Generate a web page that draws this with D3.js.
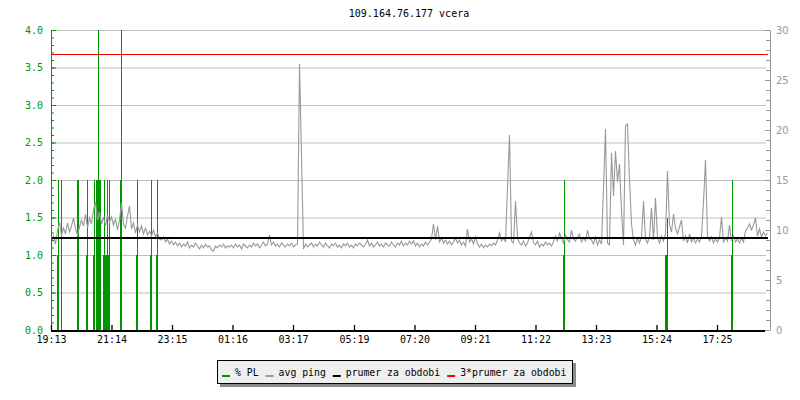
<!DOCTYPE html>
<html>
<head>
<meta charset="utf-8">
<script src="https://d3js.org/d3.v7.min.js"></script>
<style>
  body { margin: 0; background: #fff; }
  svg { display: block; font-family: "DejaVu Sans Mono", monospace; }
</style>
</head>
<body>
<svg id="chart" width="800" height="400"></svg>
<script>
var width = 800;
var height = 400;
var green = '#009600';
var gray = '#999999';

var title = "109.164.76.177 vcera";

// bottom axis tick labels (time of day)
var tickLabels = ["19:13", "21:14", "23:15", "01:16", "03:17", "05:19", "07:20", "09:21", "11:22", "13:23", "15:24", "17:25"];

// avg ping [ms], one sample every 4 minutes starting 19:13
var pingValues = [
  // 19:13 - 22:49
  8.8, 9.4, 8.6, 9.9, 10.8, 9.4, 10.2, 9.6, 10.7, 9.8, 10.4, 11.2, 10.1, 9.5, 10.3, 11.0, 10.4, 11.6, 10.2, 11.2,
  10.6, 12.0, 12.8, 11.0, 11.8, 10.6, 11.3, 10.4, 11.5, 10.8, 11.3, 10.5, 11.1, 10.0, 11.0, 12.7, 10.6, 10.2, 11.4, 12.4,
  10.1, 10.7, 9.7, 10.5, 9.8, 10.4, 9.6, 10.2, 9.5, 9.9, 9.4, 10.0, 9.3, 9.7, 9.1,
  // 22:53 - 01:09
  9.0, 9.3, 8.8, 9.1, 8.6, 8.9, 8.5, 8.8, 8.4, 8.7, 8.3, 8.6, 8.4, 8.8, 8.2, 8.5, 8.3, 8.7, 8.4, 8.1,
  8.5, 8.2, 8.6, 8.3, 8.4, 8.0, 7.9, 8.4, 8.2, 8.5, 8.3, 8.6, 8.2, 8.4, 8.3,
  // 01:13 - 07:09
  8.5, 8.2, 8.6, 8.3, 8.5, 8.1, 8.6, 8.4, 8.2, 8.5, 8.3, 8.7, 8.4, 8.6, 8.2, 8.5, 8.8, 8.4, 8.6, 9.5,
  8.5, 8.8, 8.4, 8.6, 8.3, 8.7, 8.5, 8.3, 8.6, 8.4, 8.7, 8.3, 8.5, 8.6, 26.6, 17.4, 8.1, 8.6, 8.3, 8.5,
  8.7, 8.3, 8.6, 8.4, 8.8, 8.5, 8.3, 8.7, 8.4, 8.2, 8.6, 8.4, 8.7, 8.3, 8.5, 8.2, 8.6, 8.4, 8.7, 8.3,
  8.5, 8.2, 8.6, 8.4, 8.7, 8.5, 8.3, 8.6, 9.0, 8.4, 8.7, 8.3, 8.5, 8.8, 8.4, 8.6, 8.3, 8.7, 8.5, 8.4,
  8.8, 8.5, 8.3, 8.7, 8.5, 8.9, 8.4, 8.7, 8.5, 8.9,
  // 07:13 - 13:09
  8.6, 8.9, 8.4, 8.7, 8.3, 8.6, 8.4, 8.8, 8.5, 8.8, 9.1, 10.6, 9.0, 10.4, 8.8, 9.2, 8.7, 9.0, 8.6, 8.9,
  8.5, 8.8, 9.2, 8.7, 9.0, 8.5, 8.8, 8.4, 10.1, 8.8, 9.1, 8.6, 9.3, 8.6, 8.3, 8.6, 8.2, 8.5, 8.3, 8.6,
  8.4, 8.7, 8.5, 9.0, 9.7, 8.9, 9.2, 8.8, 14.3, 19.5, 8.9, 8.7, 12.9, 9.2, 8.7, 8.5, 8.9, 8.4, 8.7, 9.3,
  9.8, 8.8, 8.5, 8.9, 8.3, 8.6, 8.4, 8.8, 8.5, 8.7, 8.4, 8.8, 9.4, 8.9, 9.7, 9.2, 8.7, 9.5, 9.0, 8.8,
  10.0, 9.1, 8.9, 9.3, 9.6, 8.8, 9.2, 8.9, 10.0, 9.1,
  // 13:13 - 19:05
  9.0, 8.6, 9.3, 8.5, 9.0, 8.6, 14.2, 20.1, 8.7, 8.5, 17.7, 13.4, 17.9, 14.8, 16.6, 11.9, 8.5, 20.4, 20.6, 15.0,
  10.6, 9.0, 8.5, 9.2, 8.7, 9.3, 12.9, 9.1, 8.7, 9.3, 12.2, 9.0, 13.2, 9.2, 8.7, 9.4, 8.9, 9.6, 15.9, 10.5,
  9.8, 11.6, 10.2, 9.6, 10.3, 11.0, 8.9, 9.4, 8.7, 9.6, 8.8, 9.2, 8.7, 9.1, 8.8, 9.3, 12.8, 17.0, 9.4, 8.9,
  9.3, 8.7, 9.1, 8.8, 9.2, 11.3, 8.8, 9.2, 8.9, 10.5, 8.9, 9.4, 8.8, 9.1, 8.7, 9.2, 8.8, 9.9, 10.2, 10.6,
  10.0, 10.5, 11.2, 9.4, 10.1, 9.3, 9.8, 9.4, 9.7
];

// packet loss [%], minutes after 19:13 where it was non zero
var plMinutes = [12, 14, 20, 52, 54, 70, 72, 84, 86, 90, 92, 94, 96, 98, 104, 106, 108, 110, 112, 114, 116,
  138, 140, 170, 172, 198, 200, 210, 212, 1024, 1026, 1228, 1230, 1232, 1360, 1362];
var plValues = [1, 2, 2, 2, 2, 1, 2, 1, 2, 2, 2, 4, 2, 2, 1, 2, 1, 1, 2, 1, 2,
  2, 4, 1, 2, 1, 2, 1, 2, 1, 2, 1, 1, 1.5, 1, 2];

var avgPing = 9.2;

var legendLabels = ["% PL", "avg ping", "prumer za obdobi", "3*prumer za obdobi"];
var legendColors = [green, gray, "#000000", "#ff0000"];

var svg = d3.select("#chart");

var t0 = new Date(2024, 0, 1, 19, 13);
var minute = 60000;
var x = d3.scaleTime().domain([t0, new Date(+t0 + 1434 * minute)]).range([51, 768]);
var yPL = d3.scaleLinear().domain([0, 4]).range([330, 30]);
var yPing = d3.scaleLinear().domain([0, 30]).range([330, 30]);

function labelToDate(lbl) {
  var p = lbl.split(":");
  var d = new Date(2024, 0, 1, +p[0], +p[1]);
  if (d < t0) d = new Date(+d + 1440 * minute);
  return d;
}
var tickDates = tickLabels.map(labelToDate);

// title
svg.append("text")
  .attr("x", 409)
  .attr("y", 17)
  .attr("text-anchor", "middle")
  .style("font-size", "10px")
  .text(title);

// grid
svg.append("g").selectAll("line")
  .data(d3.range(1, 9).map(d => d * 0.5))
  .enter().append("line")
  .attr("x1", 51).attr("x2", 766)
  .attr("y1", d => yPL(d) + 0.5).attr("y2", d => yPL(d) + 0.5)
  .attr("stroke", "#c0c0c0");

// packet loss bars
svg.append("g").selectAll("rect")
  .data(plMinutes.map((m, i) => ({ t: new Date(+t0 + m * minute), v: plValues[i] })))
  .enter().append("rect")
  .attr("x", d => x(d.t))
  .attr("width", d => x(new Date(+d.t + 2 * minute)) - x(d.t))
  .attr("y", d => yPL(d.v))
  .attr("height", d => yPL(0) - yPL(d.v))
  .attr("fill", green)
  .attr("shape-rendering", "crispEdges");

// avg ping line
var pingData = pingValues.map((v, i) => ({ t: new Date(+t0 + i * 4 * minute), v: v }));
var line = d3.line()
  .x(d => x(d.t) + 0.5)
  .y(d => yPing(d.v));
svg.append("path")
  .datum(pingData)
  .attr("fill", "none")
  .attr("stroke", gray)
  .attr("stroke-width", 1.1)
  .attr("d", line);

// average lines
svg.append("line")
  .attr("x1", 51).attr("x2", 768)
  .attr("y1", yPing(avgPing)).attr("y2", yPing(avgPing))
  .attr("stroke", "#000").attr("stroke-width", 2.2);
svg.append("line")
  .attr("x1", 51).attr("x2", 768)
  .attr("y1", Math.round(yPing(3 * avgPing)) + 0.5).attr("y2", Math.round(yPing(3 * avgPing)) + 0.5)
  .attr("stroke", "#ff0000").attr("stroke-width", 1.2);

// left axis (% PL)
var leftMinor = svg.append("g")
  .attr("transform", "translate(51,0)")
  .attr("color", green)
  .call(d3.axisLeft(yPL).tickValues(d3.range(0, 41).map(d => d / 10)).tickSizeInner(-3).tickSizeOuter(0).tickFormat(""));
leftMinor.select(".domain").remove();
svg.append("g")
  .attr("transform", "translate(51,0)")
  .attr("color", green)
  .style("font-family", "DejaVu Sans Mono")
  .style("font-size", "10px")
  .call(d3.axisLeft(yPL).tickValues(d3.range(0, 9).map(d => d * 0.5)).tickSizeInner(-5).tickSizeOuter(0).tickPadding(8).tickFormat(d3.format(".1f")));

// right axis (ping)
var rightMinor = svg.append("g")
  .attr("transform", "translate(770,0)")
  .attr("color", gray)
  .call(d3.axisRight(yPing).tickValues(d3.range(0, 31)).tickSizeInner(-4).tickSizeOuter(0).tickFormat(""));
rightMinor.select(".domain").remove();
svg.append("g")
  .attr("transform", "translate(770,0)")
  .attr("color", gray)
  .style("font-family", "DejaVu Sans")
  .style("font-size", "10px")
  .call(d3.axisRight(yPing).tickValues(d3.range(0, 31, 5)).tickSizeInner(-5).tickSizeOuter(0).tickPadding(6));

// bottom axis
var bottom = svg.append("g")
  .attr("transform", "translate(0,330)")
  .style("font-family", "DejaVu Sans Mono")
  .style("font-size", "10px")
  .call(d3.axisBottom(x).tickValues(tickDates).tickFormat((d, i) => tickLabels[i]).tickSizeInner(-5).tickSizeOuter(0).tickPadding(6));
bottom.select(".domain").remove();
bottom.selectAll(".tick line").attr("stroke-width", 1.3);
svg.append("line")
  .attr("x1", 51).attr("x2", 765)
  .attr("y1", 331).attr("y2", 331)
  .attr("stroke", "#000").attr("stroke-width", 2);

// legend
var legend = svg.append("g");
legend.append("rect")
  .attr("x", 220).attr("y", 363).attr("width", 356).attr("height", 24)
  .attr("fill", "#8c8c8c");
legend.append("rect")
  .attr("x", 217.5).attr("y", 360.5).attr("width", 355).attr("height", 23)
  .attr("fill", "#efefef").attr("stroke", "#000");
var cx = 222;
legendLabels.forEach((lbl, i) => {
  legend.append("rect")
    .attr("x", cx).attr("y", 375).attr("width", 8).attr("height", 2)
    .attr("fill", legendColors[i]);
  var t = legend.append("text")
    .attr("x", cx + 13).attr("y", 376)
    .style("font-size", "9.8px")
    .text(lbl);
  cx += 13 + t.node().getComputedTextLength() + 7;
});
</script>
</body>
</html>
